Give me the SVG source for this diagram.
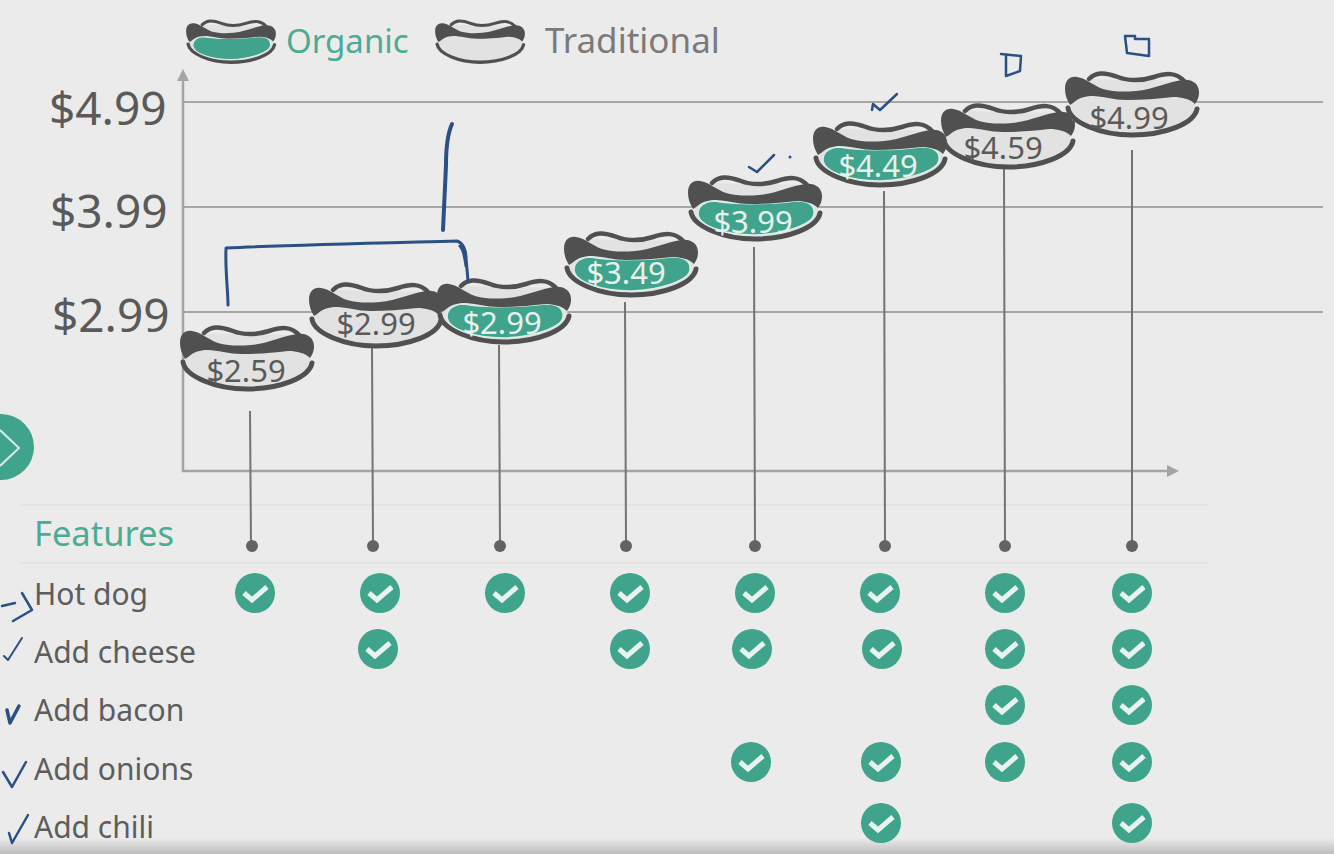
<svg xmlns="http://www.w3.org/2000/svg" width="1334" height="854" viewBox="0 0 1334 854">
<style>
text{font-family:"Noto Sans","Liberation Sans",sans-serif}
.axis{stroke:#a4a4a4;stroke-width:2.5;fill:none}
.grid{stroke:#a6a6a6;stroke-width:2;fill:none}
.rule{stroke:#e3e3e3;stroke-width:2;fill:none}
.stem{stroke:#737373;stroke-width:2;fill:none}
.dot{fill:#636363}
.tick{fill:#5a5a5a;font-size:46px}
.feat{fill:#5d5d5d;font-size:30px}
.price{font-size:31px;text-anchor:middle}
.ink{stroke:#2b5083;fill:none;stroke-linecap:round;stroke-linejoin:round}
.bun{fill:#505050}
.crust{fill:none;stroke:#505050;stroke-linecap:round}
.fillin{fill:#e2e2e2}
.org{fill:#3fa48b;stroke:#dcece8;stroke-width:1.5}
.trad{fill:#e2e2e2}
</style>
<defs>
<g id="dogback">
<path class="fillin" d="M-44 7L50 9L64 30L60 48L30 60L0 63L-30 60L-60 48L-62 30Z"/>
<path class="crust" stroke-width="4.5" d="M-43 7C-36 0-28 0-14 5C-4 9 10 9 22 5C34 1 44 0 52 9"/>
<path class="crust" stroke-width="5" d="M-64 36C-62 50-32 63 0 63C32 63 62 52 65 37"/>
</g>
<path id="saus" d="M-57 38C-57 30-50 25-40 25C-20 29 20 28 40 25C54 24 60 30 59 38C58 48 30 58 0 59C-30 59-56 50-57 38Z"/>
<path id="band" class="bun" d="M-67 17C-67 8-62 4-55 5C-46 6-40 13-29 17C-18 20-8 20 4 19C20 18 38 9 51 8C60 7 67 12 67 20C67 26 65 29 63 32C58 27 50 25 41 25C25 27 10 28-5 28C-18 28-30 24-39 24C-46 24-52 26-55 28C-58 30-60 32-62 33C-65 28-67 23-67 17Z"/>
<g id="dogT"><use href="#dogback"/><use href="#saus" class="trad"/><use href="#band"/></g>
<g id="dogO"><use href="#dogback"/><use href="#saus" class="org"/><use href="#band"/></g>
<g id="check">
<circle r="20" fill="#3fa48b"/>
<path d="M-11 0L-3 7L12-6" fill="none" stroke="#e6f3ef" stroke-width="5"/>
</g>
<linearGradient id="fade" x1="0" y1="0" x2="0" y2="1"><stop offset="0" stop-color="#ebebeb"/><stop offset="1" stop-color="#bdbdbd"/></linearGradient>
</defs>
<rect width="1334" height="854" fill="#ebebeb"/>
<rect y="838" width="1334" height="16" fill="url(#fade)"/>
<g id="connectors">
<path class="grid" d="M183 102H1323M183 207H1323M183 312H1323"/>
<path class="axis" d="M183 76V471H1168"/>
<path d="M183 69L177 81H189Z" fill="#a4a4a4"/>
<path d="M1179 471L1167 465V477Z" fill="#a4a4a4"/>
<path class="rule" d="M20 505H1208M20 563H1208"/>
<path class="stem" d="M250 411L251 546M372 347L373 546M499 345L500 546M625 302L626 546M754 247L755 546M884 191L885 546M1004 168L1005 546M1132 150V546"/>
</g>
<g id="dots">
<circle class="dot" cx="252" cy="546" r="6"/><circle class="dot" cx="373" cy="546" r="6"/><circle class="dot" cx="500" cy="546" r="6"/><circle class="dot" cx="626" cy="546" r="6"/><circle class="dot" cx="755" cy="546" r="6"/><circle class="dot" cx="885" cy="546" r="6"/><circle class="dot" cx="1005" cy="546" r="6"/><circle class="dot" cx="1132" cy="546" r="6"/>
</g>
<g id="ticks">
<text class="tick" x="49" y="125">$4.99</text>
<text class="tick" x="50" y="228">$3.99</text>
<text class="tick" x="52" y="332">$2.99</text>
</g>
<g id="legend-organic">
<use href="#dogO" transform="translate(231 20) scale(.67)"/>
<text x="286" y="53" font-size="33" fill="#4bab93">Organic</text>
</g>
<g id="legend-traditional">
<use href="#dogT" transform="translate(480 20) scale(.67)"/>
<text x="545" y="53" font-size="35" fill="#7a7a7a">Traditional</text>
</g>
<g id="dog-259"><use href="#dogT" x="247" y="326"/><text class="price" x="246" y="382" fill="#5a5a5a">$2.59</text></g>
<g id="dog-299a"><use href="#dogT" x="376" y="283"/><text class="price" x="376" y="335" fill="#5a5a5a">$2.99</text></g>
<g id="dog-299b"><use href="#dogO" x="504" y="279"/><text class="price" x="502" y="334" fill="#e6f1ee">$2.99</text></g>
<g id="dog-349"><use href="#dogO" x="631" y="232"/><text class="price" x="626" y="284" fill="#e6f1ee">$3.49</text></g>
<g id="dog-399"><use href="#dogO" x="755" y="176"/><text class="price" x="753" y="233" fill="#e6f1ee">$3.99</text></g>
<g id="dog-449"><use href="#dogO" x="880" y="122"/><text class="price" x="878" y="177" fill="#e6f1ee">$4.49</text></g>
<g id="dog-459"><use href="#dogT" x="1008" y="104"/><text class="price" x="1003" y="159" fill="#5a5a5a">$4.59</text></g>
<g id="dog-499"><use href="#dogT" x="1132" y="72"/><text class="price" x="1129" y="129" fill="#5a5a5a">$4.99</text></g>
<g id="nav"><circle cx="1" cy="447" r="33" fill="#3fa48b"/><path d="M0 430L19 448L0 466" fill="none" stroke="#d9ebe6" stroke-width="2"/></g>
<g id="features">
<text x="34" y="546" font-size="34.5" fill="#4bab93">Features</text>
<text class="feat" x="34" y="605">Hot dog</text>
<text class="feat" x="34" y="663">Add cheese</text>
<text class="feat" x="34" y="721">Add bacon</text>
<text class="feat" x="34" y="780">Add onions</text>
<text class="feat" x="34" y="838">Add chili</text>
</g>
<g id="checks">
<use href="#check" x="255" y="593"/><use href="#check" x="380" y="593"/><use href="#check" x="505" y="593"/><use href="#check" x="630" y="593"/><use href="#check" x="755" y="593"/><use href="#check" x="880" y="593"/><use href="#check" x="1005" y="593"/><use href="#check" x="1132" y="593"/>
<use href="#check" x="378" y="649"/><use href="#check" x="630" y="649"/><use href="#check" x="752" y="649"/><use href="#check" x="882" y="649"/><use href="#check" x="1005" y="649"/><use href="#check" x="1132" y="649"/>
<use href="#check" x="1005" y="705"/><use href="#check" x="1132" y="705"/>
<use href="#check" x="751" y="762"/><use href="#check" x="881" y="762"/><use href="#check" x="1005" y="762"/><use href="#check" x="1132" y="762"/>
<use href="#check" x="881" y="823"/><use href="#check" x="1132" y="823"/>
</g>
<g id="ink">
<path class="ink" stroke-width="3" d="M228 305C228 290 225 270 226 248C290 245 380 243 457 241C463 243 466 250 466 258L468 281"/>
<path class="ink" stroke-width="4" d="M452 124C447 135 446 150 446 165C445 190 444 210 443 230"/>
<path class="ink" stroke-width="3" d="M460 246C464 250 465 258 466 266"/>
<path class="ink" stroke-width="2.5" d="M2 606L15 603M22 593L32 610L13 621"/>
<path class="ink" stroke-width="2" d="M4 656L8 660L22 638"/>
<path class="ink" stroke-width="3.5" d="M7 710L10 723L19 706"/>
<path class="ink" stroke-width="2.5" d="M3 772L12 787L26 762"/>
<path class="ink" stroke-width="2.5" d="M9 833L12 843L28 815"/>
<path class="ink" stroke-width="2.5" d="M749 167L757 172L774 155"/>
<circle cx="790" cy="157" r="1.5" fill="#2b5083"/>
<path class="ink" stroke-width="2.5" d="M872 110L873 104L880 110L897 94"/>
<path class="ink" stroke-width="2.5" d="M1001 54L1021 56L1020 71L1006 76L1006 56"/>
<path class="ink" stroke-width="2.5" d="M1125 36L1127 53L1149 56L1149 39L1135 39L1135 36Z"/>
</g>
</svg>
